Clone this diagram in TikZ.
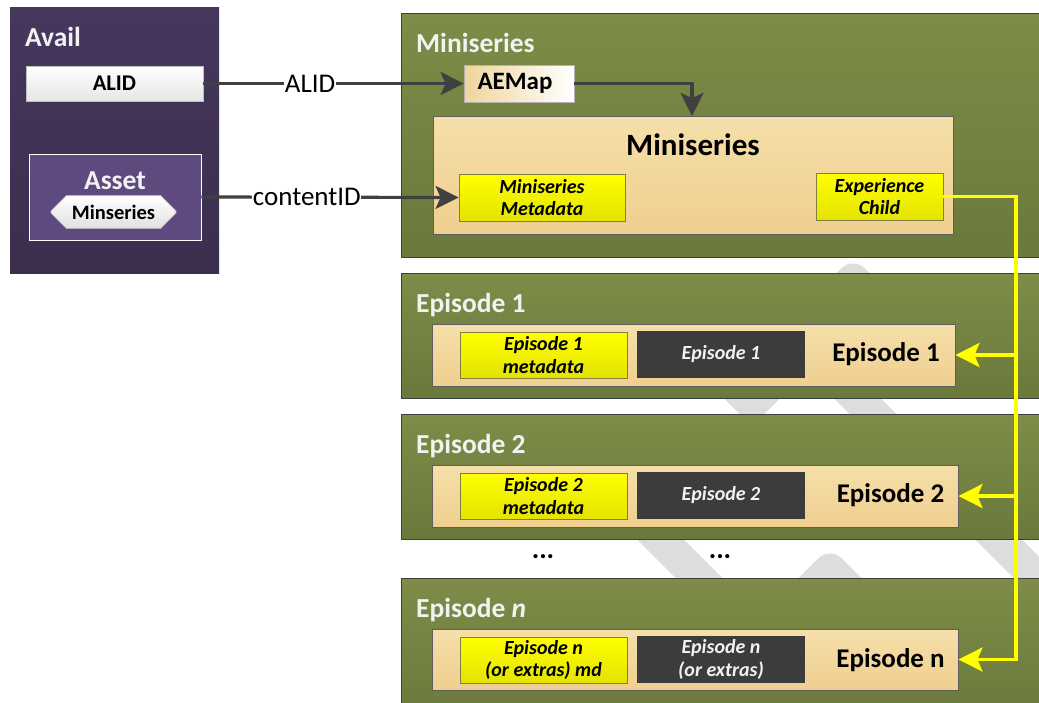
\documentclass[tikz,border=0pt]{standalone}
\usepackage{fontspec}
\setmainfont{Carlito}
\usetikzlibrary{arrows.meta,shapes.misc}

\definecolor{availtop}{HTML}{46375D}
\definecolor{availbot}{HTML}{3B2E4D}
\definecolor{assetfill}{HTML}{5F4A80}
\definecolor{greentop}{HTML}{7E8C48}
\definecolor{greenbot}{HTML}{6A793C}
\definecolor{frame}{HTML}{3F3F3F}
\definecolor{tantop}{HTML}{F5DFAA}
\definecolor{tanbot}{HTML}{EFCF8E}
\definecolor{tanline}{HTML}{5E5E5E}
\definecolor{ytop}{HTML}{FFFF00}
\definecolor{ybot}{HTML}{E3E300}
\definecolor{yline}{HTML}{7F7F40}
\definecolor{darkfill}{HTML}{3C3C3C}
\definecolor{arrowgray}{HTML}{404040}
\definecolor{offwhite}{HTML}{F2F2F2}
\definecolor{markgray}{HTML}{DDDDDD}
\definecolor{tanleft}{HTML}{EFD59C}

\newcommand\fsTitle{\fontsize{27.5}{30}\selectfont\bfseries}
\newcommand\fsBig{\fontsize{31}{34}\selectfont\bfseries}
\newcommand\fsLabel{\fontsize{27}{30}\selectfont\bfseries}
\newcommand\fsSmall{\fontsize{20}{22.5}\selectfont\bfseries\itshape}
\newcommand\fsWire{\fontsize{27}{30}\selectfont}

\begin{document}
\begin{tikzpicture}[x=1pt,y=-1pt,
  section/.style={draw=frame,line width=1.2pt,top color=greentop,bottom color=greenbot,
    minimum width=650,anchor=north west,inner sep=0pt},
  seclabel/.style={font=\fsTitle,text=offwhite,anchor=base west,inner sep=0pt},
  tanbox/.style={draw=tanline,line width=0.9pt,top color=tantop,bottom color=tanbot,inner sep=0pt},
  ybox/.style={draw=yline,line width=0.9pt,top color=ytop,bottom color=ybot,
    font=\fsSmall,align=center,inner sep=0pt,minimum height=46},
  dbox/.style={fill=darkfill,font=\fsSmall,text=offwhite,align=center,inner sep=0pt,
    minimum width=168,minimum height=47},
  eplabel/.style={font=\fsLabel,inner sep=0pt},
  wire/.style={draw=arrowgray,line width=3.2pt,-{Stealth[length=23pt,width=23pt,inset=5pt]}},
  wirelabel/.style={font=\fsWire,fill=white,inner sep=0.5pt,pos=0.41},
  yconn/.style={draw=ytop,line width=3.5pt,line join=miter},
  yarrow/.style={yconn,-{Stealth[length=24pt,width=24pt,inset=5pt]}},
  band/.style={draw=markgray,line width=33pt},
  gapdots/.style={font=\fontsize{28}{30}\selectfont\bfseries,inner sep=0pt},
]
\useasboundingbox (0,0) rectangle (1039,702);
\clip (0,0) rectangle (1039,702);

% faint background emblem strokes
\draw[band,line join=round] (823,310) -- (853,280) -- (883,310);
\draw[band,line join=round] (712,363) -- (752,403) -- (792,363);
\draw[band] (759,300) -- (1100,641);
\draw[band] (571,450) -- (741,620);
\draw[band,line join=round] (800,600) -- (830,570) -- (860,600);

% ---------- Avail ----------
\node[anchor=north west,top color=availtop,bottom color=availbot,minimum width=209,
      minimum height=266,inner sep=0pt] (avail) at (10,7) {};
\node[seclabel] (availlbl) at (25,46) {Avail};
\node[draw=white!75!black,line width=0.8pt,top color=white,bottom color=white!90!black,
      minimum width=177,minimum height=35,inner sep=0pt,font=\fontsize{22.5}{24}\selectfont\bfseries]
      (alid) at (114.5,83.5) {ALID};
\node[draw=white,line width=0.9pt,fill=assetfill,minimum width=172,minimum height=86,
      inner sep=0pt] (asset) at (115,197) {};
\node[font=\fsTitle,text=offwhite,anchor=base,inner sep=0pt] (assetlbl) at (115,189.5) {Asset};
\node[chamfered rectangle,chamfered rectangle xsep=13pt,chamfered rectangle ysep=8pt,
      draw=white!70!black,line width=0.6pt,top color=white,bottom color=white!88!black,
      minimum width=125,minimum height=33,inner sep=0pt,
      font=\fontsize{20.5}{22}\selectfont\bfseries] (minser) at (113.5,212) {Minseries};

% ---------- Miniseries ----------
\node[section,minimum height=244] (msbox) at (401,13) {};
\node[seclabel] (mslbl) at (416,52) {Miniseries};
\node[draw=white!70!black,line width=0.8pt,left color=tanleft,right color=white,
      minimum width=110,minimum height=37,inner sep=0pt,
      font=\fontsize{25}{26}\selectfont\bfseries] (aemap) at (519,83.5) {\hspace*{-8pt}AEMap};
\node[tanbox,minimum width=520,minimum height=118] (msin) at (693,175) {};
\node[font=\fsBig,anchor=base,inner sep=0pt] (msinlbl) at (693,155) {Miniseries};
\node[ybox,minimum width=166,minimum height=47] (msmeta) at (542,197.5) {Miniseries\\Metadata};
\node[ybox,minimum width=127,minimum height=47] (expch) at (879.5,196.5) {Experience\\Child};
\coordinate (drop) at (692,116);

% ---------- Episode 1 ----------
\node[section,minimum height=125] (ep1box) at (401,273) {};
\node[seclabel] (ep1lbl) at (416,312) {Episode 1};
\node[tanbox,minimum width=523,minimum height=62] (ep1in) at (693.5,355) {};
\node[ybox,minimum width=167] (ep1meta) at (543.5,355) {Episode 1\\metadata};
\node[dbox] (ep1media) at (721,354.5) {Episode 1};
\node[eplabel] (ep1name) at (886,354) {Episode 1};

% ---------- Episode 2 ----------
\node[section,minimum height=125] (ep2box) at (401,414) {};
\node[seclabel] (ep2lbl) at (416,453) {Episode 2};
\node[tanbox,minimum width=526,minimum height=62] (ep2in) at (695,496) {};
\node[ybox,minimum width=167] (ep2meta) at (543.5,496) {Episode 2\\metadata};
\node[dbox] (ep2media) at (721,495.5) {Episode 2};
\node[eplabel] (ep2name) at (890.5,495.5) {Episode 2};

% ---------- gap ----------
\node[gapdots] (dots1) at (543,557) {...};
\node[gapdots] (dots2) at (720,557) {...};

% ---------- Episode n ----------
\node[section,minimum height=140] (epnbox) at (401,578) {};
\node[seclabel] (epnlbl) at (416,617) {Episode \textit{n}};
\node[tanbox,minimum width=526,minimum height=61] (epnin) at (695,659.5) {};
\node[ybox,minimum width=167] (epnmeta) at (543.5,660) {Episode n\\(or extras) md};
\node[dbox] (epnmedia) at (721,659.5) {Episode n\\(or extras)};
\node[eplabel] (epnname) at (890.5,660) {Episode n};

% ---------- identifier links ----------
\draw[wire] (alid.east) -- node[wirelabel] {ALID} (aemap.west);
\draw[wire] (asset.east) -- node[wirelabel] {contentID} (msmeta.west);
\draw[wire] (aemap.east) -| (drop);

% ---------- child experience links ----------
\coordinate (trunk) at (1016,196.5);
\draw[yarrow] (expch.east) -- (trunk) |- (epnin.east);
\draw[yarrow] (trunk |- ep1in.east) -- (ep1in.east);
\draw[yarrow] (trunk |- ep2in.east) -- (ep2in.east);
\end{tikzpicture}
\end{document}
